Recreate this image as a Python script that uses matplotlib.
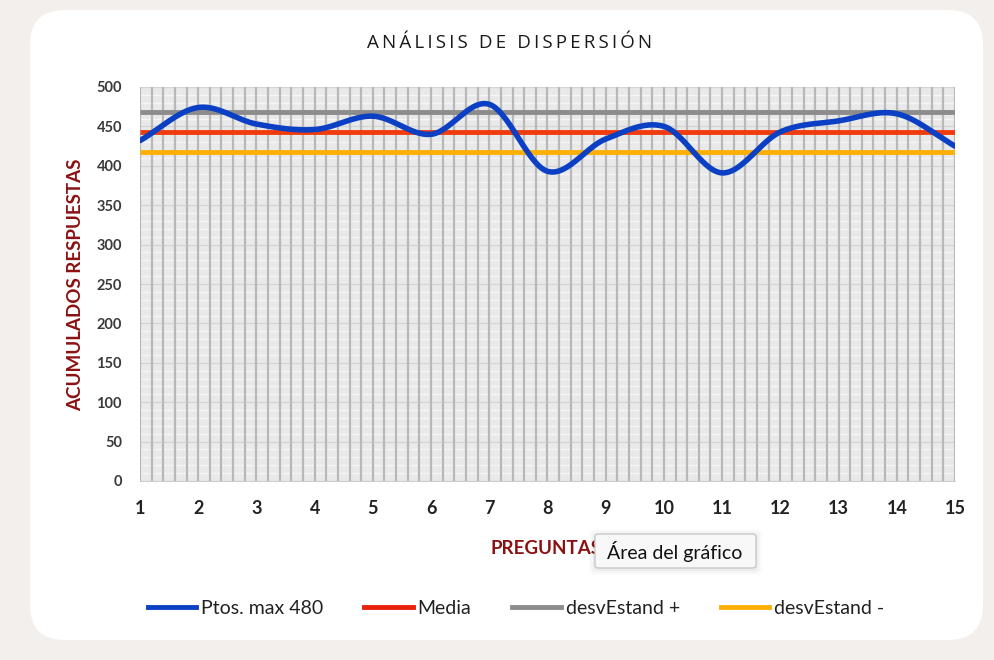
import numpy as np
import matplotlib
matplotlib.use("Agg")
import matplotlib.pyplot as plt
from matplotlib.patches import FancyBboxPatch
from matplotlib.lines import Line2D

# ---- data ----
preguntas = [1, 2, 3, 4, 5, 6, 7, 8, 9, 10, 11, 12, 13, 14, 15]
ptos = [432, 474, 453, 446, 463, 440, 478, 393, 434, 450, 391, 443, 457, 466, 425]
media = [443] * 15
desv_plus = [468.6] * 15
desv_minus = [417.4] * 15
yticks = [0, 50, 100, 150, 200, 250, 300, 350, 400, 450, 500]

title = "ANÁLISIS DE DISPERSIÓN"
ylabel = "ACUMULADOS RESPUESTAS"
xlabel = "PREGUNTAS"
legend_labels = ["Ptos. max 480", "Media", "desvEstand +", "desvEstand -"]


def smooth(x, y, n=30):
    # Catmull-Rom style smoothing (like a spreadsheet "smoothed line")
    x = np.asarray(x, float); y = np.asarray(y, float)
    P = np.column_stack([x, y])
    P = np.vstack([P[0] * 2 - P[1], P, P[-1] * 2 - P[-2]])
    out = []
    t = np.linspace(0, 1, n, endpoint=False)
    for i in range(1, len(P) - 2):
        p0, p1, p2, p3 = P[i - 1], P[i], P[i + 1], P[i + 2]
        c1 = p1 + (p2 - p0) / 6
        c2 = p2 - (p3 - p1) / 6
        for tt in t:
            b = ((1 - tt) ** 3) * p1 + 3 * ((1 - tt) ** 2) * tt * c1 + 3 * (1 - tt) * tt ** 2 * c2 + tt ** 3 * p2
            out.append(b)
    out.append(P[-2])
    out = np.array(out)
    return out[:, 0], out[:, 1]


W, H = 994, 660
fig = plt.figure(figsize=(W / 100, H / 100), dpi=100)
fig.patch.set_facecolor("#f3efec")

# white rounded card
card = FancyBboxPatch((30 / W, 20 / H), 953 / W, 630 / H,
                      boxstyle="round,pad=0,rounding_size=0.035",
                      transform=fig.transFigure, facecolor="white",
                      edgecolor="none", mutation_aspect=W / H, zorder=-5)
fig.patches.append(card)

ax = fig.add_axes([140 / W, 1 - 481 / H, 815 / W, 394 / H])
ax.set_zorder(1)
ax.set_facecolor("#e9e9e9")
ax.set_xlim(1, 15)
ax.set_ylim(0, 500)

# grid
for yv in np.arange(0, 501, 10):
    ax.axhline(yv, color="#f6f6f6", lw=1.0, zorder=0.5)
for yv in yticks:
    ax.axhline(yv, color="#d4d4d4", lw=1.0, zorder=0.6)
for xv in np.arange(1, 15.001, 0.2):
    ax.axvline(xv, color="#b8b8b8", lw=1.6, zorder=0.7)

xs, ys = smooth(preguntas, ptos)
ax.plot(preguntas, desv_plus, color="#8c8c8c", lw=3.5, zorder=3, solid_capstyle="butt")
ax.plot(preguntas, media, color="#f03c0c", lw=3.5, zorder=3, solid_capstyle="butt")
ax.plot(preguntas, desv_minus, color="#fbb005", lw=3.5, zorder=3, solid_capstyle="butt")
ax.plot(xs, ys, color="#0b3fc4", lw=4.0, zorder=4, solid_capstyle="round")

for s in ax.spines.values():
    s.set_visible(False)
ax.spines["bottom"].set_visible(True)
ax.spines["bottom"].set_color("#cfcfcf")

ax.set_xticks(preguntas)
ax.set_xticklabels([str(p) for p in preguntas], fontsize=13, fontweight="bold",
                   color="#222222", family="Lato")
ax.set_yticks(yticks)
ax.set_yticklabels([str(v) for v in yticks], fontsize=10.5, fontweight="bold",
                   color="#3a3a3a", family="Lato")
ax.tick_params(axis="both", length=0)
ax.tick_params(axis="x", pad=14)
ax.tick_params(axis="y", pad=13)

spaced_title = "\u2009 \u2009".join("\u2009".join(w) for w in title.split(" "))
fig.text(510 / W, 1 - 43 / H, spaced_title,
         ha="center", va="center", fontsize=13.5, color="#1a1a1a",
         family=["Open Sans", "DejaVu Sans"])

fig.text(76 / W, 1 - 285 / H, ylabel, rotation=90, ha="center", va="center",
         fontsize=13.5, fontweight="bold", color="#8b1212", family="Lato")

fig.text(490 / W, 1 - 549 / H, xlabel, ha="left", va="center",
         fontsize=13.5, fontweight="bold", color="#8b1212", family="Lato", zorder=5)

# tooltip
for i, a in enumerate([0.035, 0.025, 0.015]):
    sh = FancyBboxPatch(((595 - 2 - 2 * i) / W, (1 - 571 / H) - (2 * i) / H),
                        (161 + 4 + 4 * i) / W, (38 + 4 * i) / H,
                        boxstyle="round,pad=0,rounding_size=0.006",
                        transform=fig.transFigure, facecolor="#000000", alpha=a,
                        edgecolor="none", zorder=6)
    fig.patches.append(sh)
tip = FancyBboxPatch((595 / W, 1 - 568 / H), 161 / W, 34 / H,
                     boxstyle="round,pad=0,rounding_size=0.004",
                     transform=fig.transFigure, facecolor="#f8f8f8",
                     edgecolor="#c9c9c9", lw=1.0, zorder=7)
fig.patches.append(tip)
fig.text(675 / W, 1 - 551 / H, "Área del gráfico", ha="center", va="center",
         fontsize=14, color="#111111", family="Lato", zorder=8)

handles = [Line2D([], [], color="#0b3fc4", lw=3.5),
           Line2D([], [], color="#e8200c", lw=3.5),
           Line2D([], [], color="#8c8c8c", lw=3.5),
           Line2D([], [], color="#fbb005", lw=3.5)]
leg = fig.legend(handles, legend_labels, loc="center", bbox_to_anchor=(516 / W, 1 - 608 / H),
                 ncol=4, frameon=False, handlelength=2.5, handletextpad=0.25,
                 columnspacing=2.1, prop={"family": "Lato", "size": 14})
for t in leg.get_texts():
    t.set_color("#222222")

fig.savefig("out.png", dpi=100, facecolor=fig.get_facecolor())
